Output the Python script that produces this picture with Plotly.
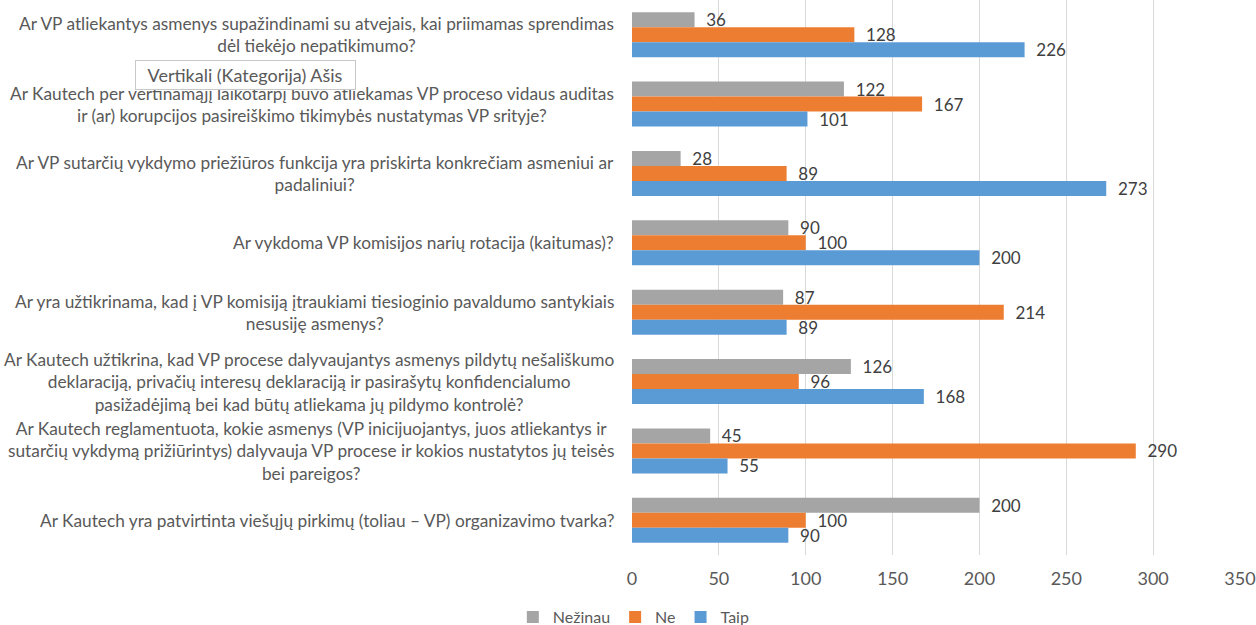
import plotly.graph_objects as go

categories = [
    "Ar VP atliekantys asmenys supažindinami su atvejais, kai priimamas sprendimas<br>dėl tiekėjo nepatikimumo?",
    "Ar Kautech per vertinamąjį laikotarpį buvo atliekamas VP proceso vidaus auditas<br>ir (ar) korupcijos pasireiškimo tikimybės nustatymas VP srityje?",
    "Ar VP sutarčių vykdymo priežiūros funkcija yra priskirta konkrečiam asmeniui ar<br>padaliniui?",
    "Ar vykdoma VP komisijos narių rotacija (kaitumas)?",
    "Ar yra užtikrinama, kad į VP komisiją įtraukiami tiesioginio pavaldumo santykiais<br>nesusiję asmenys?",
    "Ar Kautech užtikrina, kad VP procese dalyvaujantys asmenys pildytų nešališkumo<br>deklaraciją, privačių interesų deklaraciją ir pasirašytų konfidencialumo<br>pasižadėjimą bei kad būtų atliekama jų pildymo kontrolė?",
    "Ar Kautech reglamentuota, kokie asmenys (VP inicijuojantys, juos atliekantys ir<br>sutarčių vykdymą prižiūrintys) dalyvauja VP procese ir kokios nustatytos jų teisės<br>bei pareigos?",
    "Ar Kautech yra patvirtinta viešųjų pirkimų (toliau – VP) organizavimo tvarka?",
]
cat_ids = [f"q{i+1}" for i in range(len(categories))]

nezinau = [36, 122, 28, 90, 87, 126, 45, 200]
ne = [128, 167, 89, 100, 214, 96, 290, 100]
taip = [226, 101, 273, 200, 89, 168, 55, 90]

x_ticks = [0, 50, 100, 150, 200, 250, 300, 350]

FONT = "Lato, Liberation Sans, sans-serif"

series = [
    ("Nežinau", nezinau, "#A5A5A5"),
    ("Ne", ne, "#ED7D31"),
    ("Taip", taip, "#5B9BD5"),
]

fig = go.Figure()
for name, vals, color in series:
    fig.add_trace(go.Bar(
        name=name, x=vals, y=cat_ids, orientation="h",
        marker=dict(color=color, line=dict(width=0)),
        text=vals, texttemplate="  %{x}", textposition="outside",
        constraintext="none",
        textfont=dict(family=FONT, size=17, color="#404040"),
        cliponaxis=False,
    ))

for cid, label in zip(cat_ids, categories):
    fig.add_annotation(
        x=0, xref="paper", y=cid, yref="y", xanchor="right", yanchor="middle",
        xshift=-16, text=label, align="center", showarrow=False,
        font=dict(family=FONT, size=17.3, color="#595959"),
    )

fig.add_annotation(
    x=-0.6365, xref="paper", y=0.865, yref="paper", xanchor="center", yanchor="middle",
    text="\u00a0\u00a0Vertikali (Kategorija) Ašis\u00a0\u00a0", showarrow=False,
    font=dict(family=FONT, size=18, color="#595959"),
    bgcolor="#FFFFFF", bordercolor="#C8C8C8", borderwidth=1, borderpad=3,
)

fig.update_layout(
    width=1256, height=625,
    margin=dict(l=632, r=16, t=0, b=70, autoexpand=False),
    barmode="group", bargap=0.35, bargroupgap=0,
    plot_bgcolor="white", paper_bgcolor="white",
    font=dict(family=FONT, size=16, color="#595959"),
    xaxis=dict(range=[0, 350], tickvals=x_ticks, showgrid=True, gridcolor="#D9D9D9",
               gridwidth=1, zeroline=False, showline=False, ticks="",
               ticklabelstandoff=11, tickfont=dict(family=FONT, size=18, color="#595959")),
    yaxis=dict(type="category", categoryorder="array", categoryarray=cat_ids,
               autorange="reversed", showticklabels=False, showgrid=False,
               zeroline=False, showline=False),
    legend=dict(orientation="h", x=0.003, xanchor="center", y=-0.1117, yanchor="middle",
                font=dict(family=FONT, size=16, color="#595959"), itemwidth=30,
                traceorder="normal"),
    showlegend=True,
)

fig.write_html("out.html", config={"displayModeBar": False},
               post_script="document.body.style.margin='0px';")
